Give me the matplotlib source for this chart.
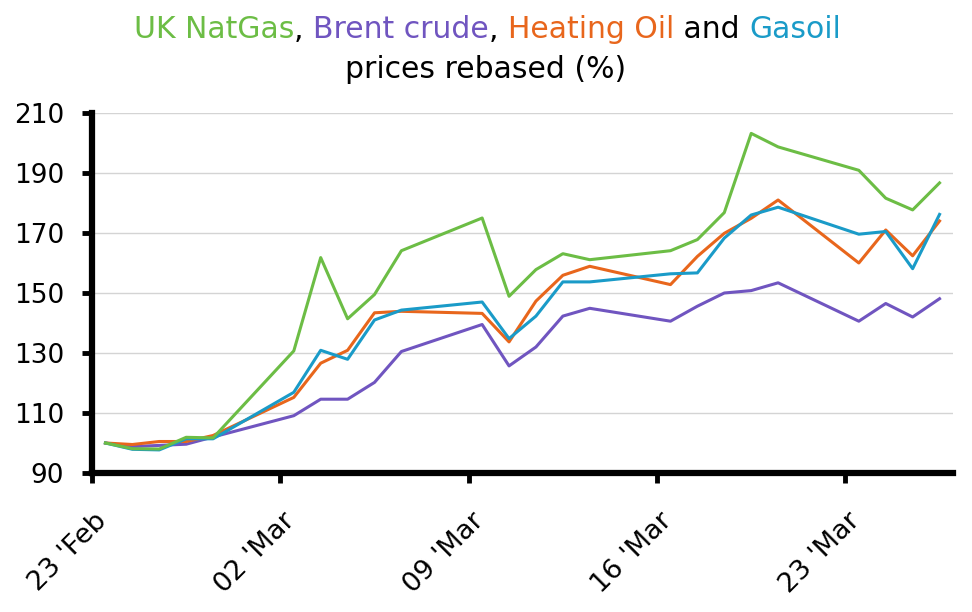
import matplotlib
matplotlib.use("Agg")
import matplotlib.pyplot as plt
import matplotlib.transforms as mtransforms
import numpy as np
import pandas as pd

# ---- data ----
dates = ["2022-02-23", "2022-02-24", "2022-02-25", "2022-02-26", "2022-02-27",
         "2022-03-02", "2022-03-03", "2022-03-04", "2022-03-05", "2022-03-06",
         "2022-03-09", "2022-03-10", "2022-03-11", "2022-03-12", "2022-03-13",
         "2022-03-16", "2022-03-17", "2022-03-18", "2022-03-19", "2022-03-20",
         "2022-03-23", "2022-03-24", "2022-03-25", "2022-03-26"]

uk_natgas = [100, 98.1, 98.0, 101.9, 101.7,
             130.7, 161.8, 141.4, 149.5, 164.1,
             175.0, 148.9, 157.8, 163.1, 161.1,
             164.1, 167.8, 176.8, 203.2, 198.7,
             190.9, 181.6, 177.7, 186.7]
brent = [100, 98.8, 99.2, 99.6, 102.0,
         109.1, 114.6, 114.6, 120.2, 130.5,
         139.5, 125.7, 132.0, 142.3, 144.9,
         140.6, 145.6, 150.0, 150.8, 153.4,
         140.6, 146.5, 142.0, 148.1]
heating_oil = [100, 99.5, 100.5, 100.5, 102.5,
               115.2, 126.6, 130.9, 143.4, 143.9,
               143.2, 133.7, 147.3, 155.9, 158.9,
               152.8, 162.2, 169.9, 174.9, 181.0,
               160.0, 171.0, 162.4, 174.0]
gasoil = [100, 97.9, 97.7, 101.4, 101.4,
          116.9, 130.9, 127.9, 141.0, 144.3,
          147.0, 134.8, 142.3, 153.7, 153.7,
          156.4, 156.7, 168.3, 176.0, 178.6,
          169.6, 170.5, 158.1, 176.2]

tick_dates = ["2022-02-23", "2022-03-02", "2022-03-09", "2022-03-16", "2022-03-23"]
tick_labels = ["23 'Feb", "02 'Mar", "09 'Mar", "16 'Mar", "23 'Mar"]
y_ticks = [90, 110, 130, 150, 170, 190, 210]

GREEN = "#6cbd45"
PURPLE = "#7055c0"
ORANGE = "#e8661c"
BLUE = "#1a9bc8"

plt.rcParams['font.family'] = ['DejaVu Sans']

fig = plt.figure(figsize=(9.72, 6.12), dpi=100)
ax = fig.add_axes([92/972, 1 - 473/612, (953-92)/972, (473-113)/612])

base = pd.Timestamp("2022-02-23")
x = np.array([(pd.Timestamp(d) - base).days + 0.5 for d in dates])
xt = [(pd.Timestamp(d) - base).days for d in tick_dates]

lw = 2.2
ax.plot(x, brent, color=PURPLE, lw=lw, zorder=3)
ax.plot(x, heating_oil, color=ORANGE, lw=lw, zorder=4)
ax.plot(x, gasoil, color=BLUE, lw=lw, zorder=5)
ax.plot(x, uk_natgas, color=GREEN, lw=lw, zorder=6)

ax.set_xlim(0, 32)
ax.set_ylim(90, 210)
ax.set_yticks(y_ticks)
ax.set_xticks(xt)
ax.set_xticklabels([])
ax.tick_params(axis='y', labelsize=19, length=7.2, width=3.5, pad=13, color='black')
ax.tick_params(axis='x', length=7.5, width=3.5, color='black')

# rotated date labels
off = mtransforms.ScaledTranslation(11/100, -44/100, fig.dpi_scale_trans)
for xv, lab in zip(xt, tick_labels):
    ax.text(xv, 0, lab, transform=ax.get_xaxis_transform() + off,
            rotation=45, rotation_mode='anchor', ha='right', va='center',
            fontsize=19.5, color='black', clip_on=False)

ax.grid(axis='y', color='#d4d4d4', lw=1.0, zorder=0)
ax.set_axisbelow(True)
for s in ['top', 'right']:
    ax.spines[s].set_visible(False)
for s in ['left', 'bottom']:
    ax.spines[s].set_linewidth(4.5)
    ax.spines[s].set_color('black')
    ax.spines[s].set_capstyle('projecting')

# title with colored parts
fs = 21.5
parts1 = [("UK NatGas", GREEN), (", ", "black"), ("Brent crude", PURPLE), (", ", "black"),
          ("Heating Oil", ORANGE), (" and ", "black"), ("Gasoil", BLUE)]
renderer = fig.canvas.get_renderer()
texts = []
for s, c in parts1:
    t = fig.text(0, 1 - 38.5/612, s, color=c, fontsize=fs, va='baseline', ha='left')
    texts.append(t)
widths = [t.get_window_extent(renderer=renderer).width for t in texts]
total = sum(widths)
cur = 487.5 - total / 2
for t, w in zip(texts, widths):
    t.set_x(cur / 972)
    cur += w
fig.text(486/972, 1 - 78/612, "prices rebased (%)", color='black', fontsize=fs,
         ha='center', va='baseline')

fig.savefig("out.png", dpi=100)
